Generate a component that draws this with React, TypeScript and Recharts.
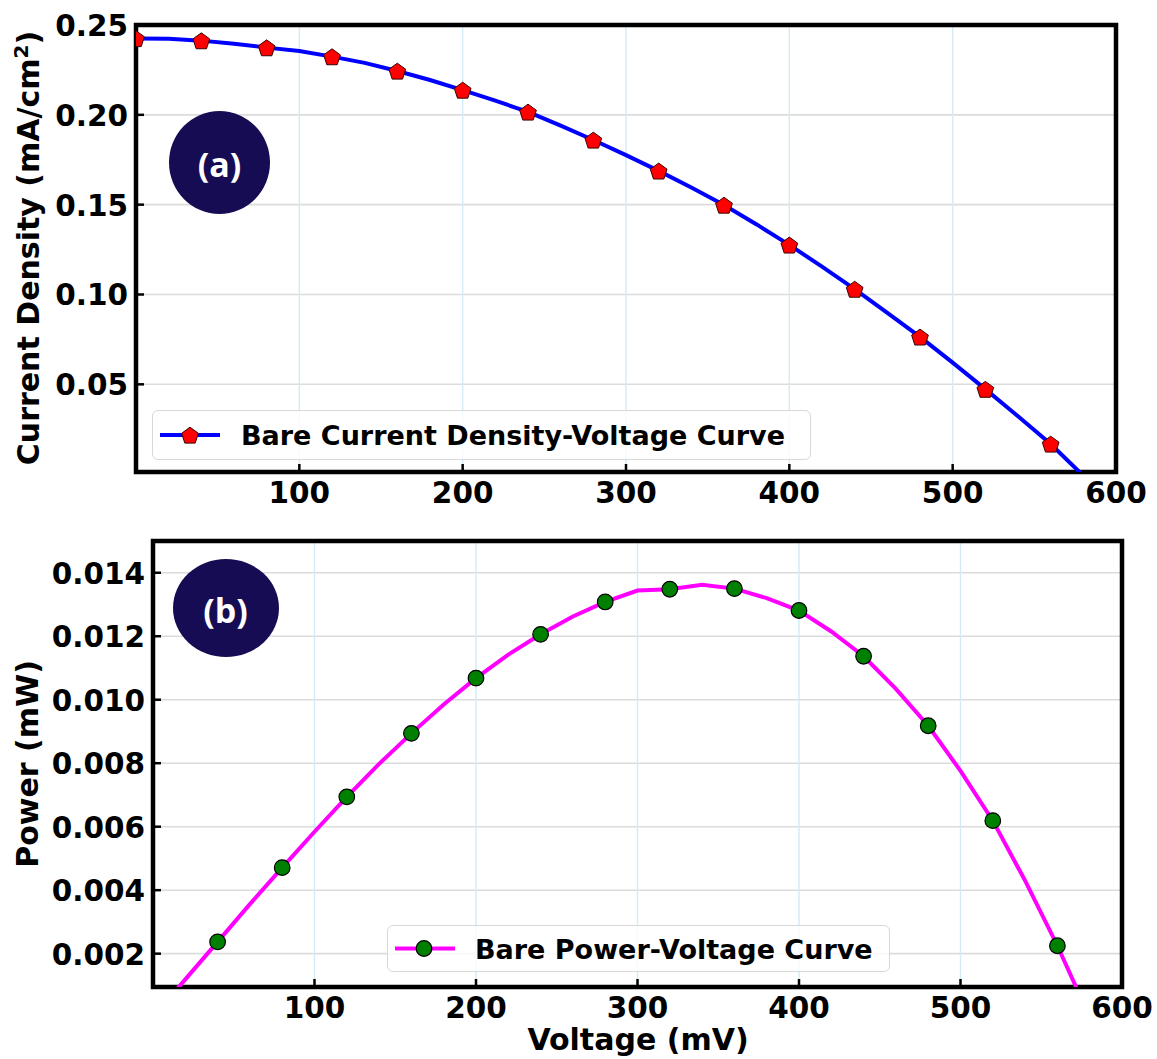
import { ComposedChart, Line, Scatter, XAxis, YAxis, CartesianGrid, ReferenceArea } from 'recharts'

const FONT = "'DejaVu Sans', 'Liberation Sans', sans-serif"

// voltage steps of the smooth curves (mV)
const voltage = [0, 20, 40, 60, 80, 100, 120, 140, 160, 180, 200, 220, 240, 260, 280, 300, 320, 340, 360, 380, 400, 420, 440, 460, 480, 500, 520, 540, 560, 580]
// current density (mA/cm2) along the curve
const currentLine = [0.2425, 0.2423, 0.2413, 0.2396, 0.2374, 0.2355, 0.2324, 0.2289, 0.2244, 0.2194, 0.2138, 0.2079, 0.2016, 0.1940, 0.1860, 0.1776, 0.1688, 0.1595, 0.1498, 0.1390, 0.1276, 0.1155, 0.1030, 0.0898, 0.0764, 0.0621, 0.0473, 0.0322, 0.0168, -0.0009]
// power (mW) along the curve
const powerLine = [0, 0.00119, 0.00237, 0.00356, 0.00471, 0.00584, 0.00694, 0.00798, 0.00894, 0.00985, 0.01068, 0.01142, 0.01206, 0.01262, 0.01308, 0.01344, 0.01348, 0.01362, 0.0135, 0.0132, 0.01281, 0.01215, 0.01137, 0.01034, 0.00918, 0.00776, 0.00619, 0.0043, 0.00225, 0]

// marker points
const currentMarkerV = [0, 40, 80, 120, 160, 200, 240, 280, 320, 360, 400, 440, 480, 520, 560]
const currentMarkers = [0.2425, 0.2413, 0.2374, 0.2324, 0.2244, 0.2138, 0.2016, 0.1860, 0.1688, 0.1498, 0.1276, 0.1030, 0.0764, 0.0473, 0.0168]
const powerMarkerV = [40, 80, 120, 160, 200, 240, 280, 320, 360, 400, 440, 480, 520, 560]
const powerMarkers = [0.00237, 0.00471, 0.00694, 0.00894, 0.01068, 0.01206, 0.01308, 0.01348, 0.0135, 0.01281, 0.01137, 0.00918, 0.00619, 0.00225]

const xTicks = [100, 200, 300, 400, 500, 600]
const currentTicks = [0.05, 0.1, 0.15, 0.2, 0.25]
const powerTicks = [0.002, 0.004, 0.006, 0.008, 0.01, 0.012, 0.014]

const currentDomain = [0.0012, 0.25]
const powerDomain = [0.00095, 0.015]

const ivData = voltage.map((v, k) => ({ v, y: currentLine[k] }))
const pvData = voltage.map((v, k) => ({ v, y: powerLine[k] }))
const ivMarkers = currentMarkerV.map((v, k) => ({ v, y: currentMarkers[k] }))
const pvMarkers = powerMarkerV.map((v, k) => ({ v, y: powerMarkers[k] }))

function pentagonPoints(cx: number, cy: number, r: number) {
  const pts: string[] = []
  for (let k = 0; k < 5; k++) {
    const a = (-90 + k * 72) * Math.PI / 180
    pts.push(`${cx + r * Math.cos(a)},${cy + r * Math.sin(a)}`)
  }
  return pts.join(' ')
}

function Pentagon(props: any) {
  const { cx, cy } = props
  if (cx == null || cy == null) return null
  return <polygon points={pentagonPoints(cx, cy + 1, 8.8)} fill="#ff0000" stroke="#3a0000" strokeWidth={1} />
}

function GreenDot(props: any) {
  const { cx, cy } = props
  if (cx == null || cy == null) return null
  return <circle cx={cx} cy={cy} r={7.8} fill="#008000" stroke="#000" strokeWidth={1.2} />
}

function XTick({ x, y, payload }: any) {
  return (
    <g>
      <line x1={x} y1={y} x2={x} y2={y - 8} stroke="#000" strokeWidth={2.5} />
      <text x={x} y={y + 30.5} textAnchor="middle" fontFamily={FONT} fontWeight="bold" fontSize={29.5} fill="#000">
        {payload.value}
      </text>
    </g>
  )
}

function makeYTick(digits: number) {
  return ({ x, y, payload }: any) => (
    <g>
      <line x1={x} y1={y} x2={x + 8} y2={y} stroke="#000" strokeWidth={2.5} />
      <text x={x - 8} y={y + 11} textAnchor="end" fontFamily={FONT} fontWeight="bold" fontSize={29.5} fill="#000">
        {payload.value.toFixed(digits)}
      </text>
    </g>
  )
}

const labelStyle = { fontFamily: FONT, fontWeight: 'bold' as const, fontSize: 30, fill: '#000' }

function LegendBox({ left, top, width, height, lineColor, marker, text }: any) {
  return (
    <div
      style={{
        position: 'absolute', left, top, width, height, boxSizing: 'border-box',
        border: '1.5px solid #d8d8d8', borderRadius: 6, background: 'rgba(255,255,255,0.8)',
      }}
    >
      <svg width={width} height={height} style={{ position: 'absolute', left: -1.5, top: -1.5 }}>
        <line x1={8} y1={height / 2} x2={68} y2={height / 2} stroke={lineColor} strokeWidth={4} />
        {marker === 'pentagon'
          ? <polygon points={pentagonPoints(38, height / 2 + 1, 8.8)} fill="#ff0000" stroke="#3a0000" strokeWidth={1} />
          : <circle cx={37} cy={height / 2} r={7.8} fill="#008000" stroke="#000" strokeWidth={1.2} />}
        <text x={marker === 'pentagon' ? 89 : 88} y={height / 2 + 10} fontFamily={FONT} fontWeight="bold" fontSize={27} fill="#000">
          {text}
        </text>
      </svg>
    </div>
  )
}

function Badge({ cx, cy, rx, ry, text }: any) {
  return (
    <div
      style={{
        position: 'absolute', left: cx - rx, top: cy - ry, width: rx * 2, height: ry * 2,
        borderRadius: '50%', background: '#160c54', color: '#fff',
        display: 'flex', alignItems: 'center', justifyContent: 'center',
        fontFamily: "'Open Sans', sans-serif", fontWeight: 700, fontSize: 34, lineHeight: 1,
      }}
    >
      <span style={{ marginTop: 4 }}>{text}</span>
    </div>
  )
}

export default function App() {
  return (
    <div style={{ position: 'absolute', left: 0, top: 0, width: 1157, height: 1059, background: '#fff' }}>
      <div style={{ position: 'absolute', left: 0, top: 0 }}>
        <ComposedChart width={1157} height={520} margin={{ top: 25, right: 41, bottom: 0, left: 0 }}>
          <CartesianGrid vertical={false} stroke="#dcdcdc" strokeWidth={1.6} />
          <CartesianGrid horizontal={false} stroke="#d2ebf6" strokeWidth={1.4} />
          <XAxis
            type="number" dataKey="v" domain={[0, 600]} ticks={xTicks} allowDataOverflow
            height={48} axisLine={false} tickLine={false} tickSize={0} tickMargin={0} tick={<XTick />}
          />
          <YAxis
            type="number" domain={currentDomain} ticks={currentTicks} allowDataOverflow
            width={136} axisLine={false} tickLine={false} tickSize={0} tickMargin={0} tick={makeYTick(2)}
            label={() => (
              <text transform="translate(39, 248) rotate(-90)" textAnchor="middle" {...labelStyle}>
                <tspan>Current Density (mA/cm</tspan>
                <tspan dy={-11} fontSize={20}>2</tspan>
                <tspan dy={11}>)</tspan>
              </text>
            )}
          />
          <Line data={ivData} dataKey="y" type="linear" stroke="#0000ff" strokeWidth={4} dot={false} isAnimationActive={false} />
          <Scatter data={ivMarkers} dataKey="y" shape={<Pentagon />} isAnimationActive={false} />
          <ReferenceArea x1={0} x2={600} y1={currentDomain[0]} y2={currentDomain[1]} fill="none" stroke="#000" strokeWidth={4.5} ifOverflow="visible" />
        </ComposedChart>
      </div>
      <div style={{ position: 'absolute', left: 0, top: 520 }}>
        <ComposedChart width={1157} height={539} margin={{ top: 21, right: 35, bottom: 0, left: 0 }}>
          <CartesianGrid vertical={false} stroke="#dcdcdc" strokeWidth={1.6} />
          <CartesianGrid horizontal={false} stroke="#d2ebf6" strokeWidth={1.4} />
          <XAxis
            type="number" dataKey="v" domain={[0, 600]} ticks={xTicks} allowDataOverflow
            height={72} axisLine={false} tickLine={false} tickSize={0} tickMargin={0} tick={<XTick />}
            label={() => (
              <text x={638} y={530} textAnchor="middle" {...labelStyle}>Voltage (mV)</text>
            )}
          />
          <YAxis
            type="number" domain={powerDomain} ticks={powerTicks} allowDataOverflow
            width={153} axisLine={false} tickLine={false} tickSize={0} tickMargin={0} tick={makeYTick(3)}
            label={() => (
              <text transform="translate(38, 244) rotate(-90)" textAnchor="middle" {...labelStyle}>Power (mW)</text>
            )}
          />
          <Line data={pvData} dataKey="y" type="linear" stroke="#ff00ff" strokeWidth={4} dot={false} isAnimationActive={false} />
          <Scatter data={pvMarkers} dataKey="y" shape={<GreenDot />} isAnimationActive={false} />
          <ReferenceArea x1={0} x2={600} y1={powerDomain[0]} y2={powerDomain[1]} fill="none" stroke="#000" strokeWidth={4.5} ifOverflow="visible" />
        </ComposedChart>
      </div>
      <LegendBox left={152} top={410} width={659} height={50} lineColor="#0000ff" marker="pentagon" text="Bare Current Density-Voltage Curve" />
      <LegendBox left={387} top={925} width={503} height={47} lineColor="#ff00ff" marker="circle" text="Bare Power-Voltage Curve" />
      <Badge cx={219.5} cy={162} rx={50.5} ry={51.5} text="(a)" />
      <Badge cx={225.5} cy={608} rx={53} ry={49} text="(b)" />
    </div>
  )
}
